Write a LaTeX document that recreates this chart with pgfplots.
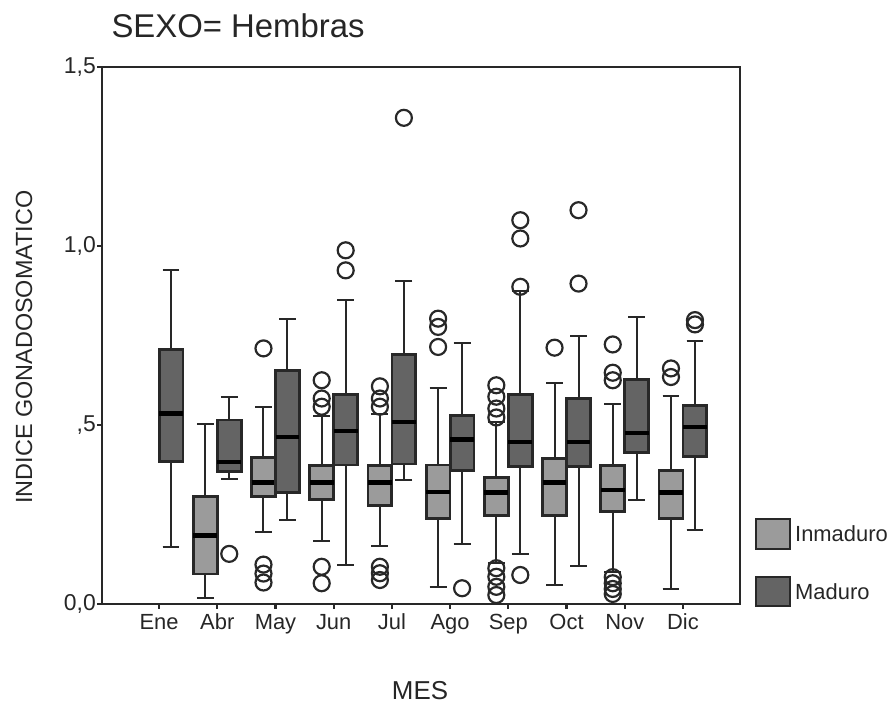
\documentclass[border=0pt]{standalone}
\usepackage{fontspec}
\setmainfont{Liberation Sans}
\usepackage{pgfplots}
\pgfplotsset{compat=1.18}
\usepgfplotslibrary{statistics}
\definecolor{inm}{RGB}{155,155,155}
\definecolor{mad}{RGB}{100,100,100}
\definecolor{edge}{RGB}{40,40,40}
\pgfplotsset{
  bx/.style={draw=edge, line width=2bp, mark=o, mark size=8bp,
    mark options={draw=edge, fill=none, line width=2.2bp, solid},
    boxplot/every box/.style={line width=2.8bp},
    boxplot/every whisker/.style={line width=2bp}},
  inmbox/.style={bx, fill=inm},
  madbox/.style={bx, fill=mad},
  BP/.style n args={6}{boxplot prepared={draw position=#1, lower whisker=#2, lower quartile=#3, median=#4, upper quartile=#5, upper whisker=#6, box extend=0.41, whisker extend=0.29, draw direction=y}},
}
\begin{document}
\begin{tikzpicture}
\path[use as bounding box] (0,0) rectangle (895bp,706bp);
\begin{axis}[
  at={(102bp,102bp)}, anchor=south west, scale only axis,
  width=638bp, height=537bp,
  xmin=-0.98, xmax=9.98, ymin=0, ymax=1.5,
  boxplot/draw direction=y,
  xtick={0,1,2,3,4,5,6,7,8,9},
  xticklabels={Ene,Abr,May,Jun,Jul,Ago,Sep,Oct,Nov,Dic},
  ytick={0,0.5,1,1.5},
  yticklabels={{0,0},{,5},{1,0},{1,5}},
  tick align=outside, major tick length=5bp,
  tick pos=left,
  tick style={line width=2.2bp, edge},
  axis line style={line width=2.2bp, edge},
  ticklabel style={font=\fontsize{22}{26}\selectfont, text=black!85},
  yticklabel style={font=\fontsize{23}{27}\selectfont, inner sep=1bp},
  xticklabel style={text height=16bp, text depth=4bp, yshift=-1bp},
  clip=false,
  boxplot/draw/median/.code={\draw[line width=4.5bp, black] (boxplot box cs:\pgfplotsboxplotvalue{median},0) -- (boxplot box cs:\pgfplotsboxplotvalue{median},1);},
]
% Ene
\addplot[madbox, BP={0.206}{0.160}{0.397}{0.532}{0.711}{0.932}] coordinates {};
% Abr
\addplot[inmbox, BP={0.794}{0.016}{0.084}{0.192}{0.300}{0.502}] coordinates {};
\addplot[madbox, BP={1.206}{0.349}{0.371}{0.397}{0.514}{0.579}] coordinates {(0,0.140)};
% May
\addplot[inmbox, BP={1.794}{0.202}{0.300}{0.339}{0.409}{0.549}] coordinates {(0,0.714) (0,0.110) (0,0.085) (0,0.060)};
\addplot[madbox, BP={2.206}{0.234}{0.311}{0.467}{0.653}{0.795}] coordinates {};
% Jun
\addplot[inmbox, BP={2.794}{0.175}{0.292}{0.339}{0.386}{0.525}] coordinates {(0,0.625) (0,0.574) (0,0.551) (0,0.104) (0,0.058)};
\addplot[madbox, BP={3.206}{0.109}{0.388}{0.483}{0.585}{0.850}] coordinates {(0,0.932) (0,0.988)};
% Jul
\addplot[inmbox, BP={3.794}{0.163}{0.276}{0.339}{0.386}{0.532}] coordinates {(0,0.608) (0,0.574) (0,0.551) (0,0.104) (0,0.086) (0,0.067)};
\addplot[madbox, BP={4.206}{0.346}{0.391}{0.509}{0.698}{0.902}] coordinates {(0,1.358)};
% Ago
\addplot[inmbox, BP={4.794}{0.047}{0.239}{0.313}{0.388}{0.602}] coordinates {(0,0.797) (0,0.774) (0,0.718)};
\addplot[madbox, BP={5.206}{0.167}{0.372}{0.460}{0.527}{0.729}] coordinates {(0,0.044)};
% Sep
\addplot[inmbox, BP={5.794}{0.114}{0.248}{0.311}{0.353}{0.509}] coordinates {(0,0.611) (0,0.579) (0,0.546) (0,0.521) (0,0.100) (0,0.076) (0,0.048) (0,0.025)};
\addplot[madbox, BP={6.206}{0.139}{0.385}{0.453}{0.585}{0.875}] coordinates {(0,1.072) (0,1.021) (0,0.886) (0,0.081)};
% Oct
\addplot[inmbox, BP={6.794}{0.053}{0.248}{0.339}{0.407}{0.618}] coordinates {(0,0.716)};
\addplot[madbox, BP={7.206}{0.107}{0.383}{0.453}{0.574}{0.748}] coordinates {(0,1.100) (0,0.895)};
% Nov
\addplot[inmbox, BP={7.794}{0.090}{0.258}{0.318}{0.386}{0.560}] coordinates {(0,0.725) (0,0.646) (0,0.625) (0,0.075) (0,0.058) (0,0.042) (0,0.028)};
\addplot[madbox, BP={8.206}{0.290}{0.423}{0.478}{0.627}{0.802}] coordinates {};
% Dic
\addplot[inmbox, BP={8.794}{0.042}{0.239}{0.311}{0.374}{0.581}] coordinates {(0,0.658) (0,0.634)};
\addplot[madbox, BP={9.206}{0.208}{0.413}{0.495}{0.555}{0.735}] coordinates {(0,0.793) (0,0.781)};
\end{axis}
% title
\node[anchor=base west, font=\fontsize{33}{38}\selectfont, text=black!85] at (108bp,668bp) {SEXO= Hembras};
% axis labels
\node[rotate=90, font=\fontsize{23.5}{28}\selectfont, text=black!85] at (24bp,359bp) {INDICE GONADOSOMATICO};
\node[anchor=base, font=\fontsize{26}{30}\selectfont, text=black!85] at (420bp,7bp) {MES};
% legend
\draw[fill=inm, draw=edge, line width=2.4bp] (756bp,157bp) rectangle (790bp,187bp);
\node[anchor=west, font=\fontsize{22}{26}\selectfont, text=black!85, inner sep=0pt] at (795bp,172bp) {Inmaduro};
\draw[fill=mad, draw=edge, line width=2.4bp] (756bp,100bp) rectangle (790bp,129bp);
\node[anchor=west, font=\fontsize{22}{26}\selectfont, text=black!85, inner sep=0pt] at (795bp,114bp) {Maduro};
\end{tikzpicture}
\end{document}
